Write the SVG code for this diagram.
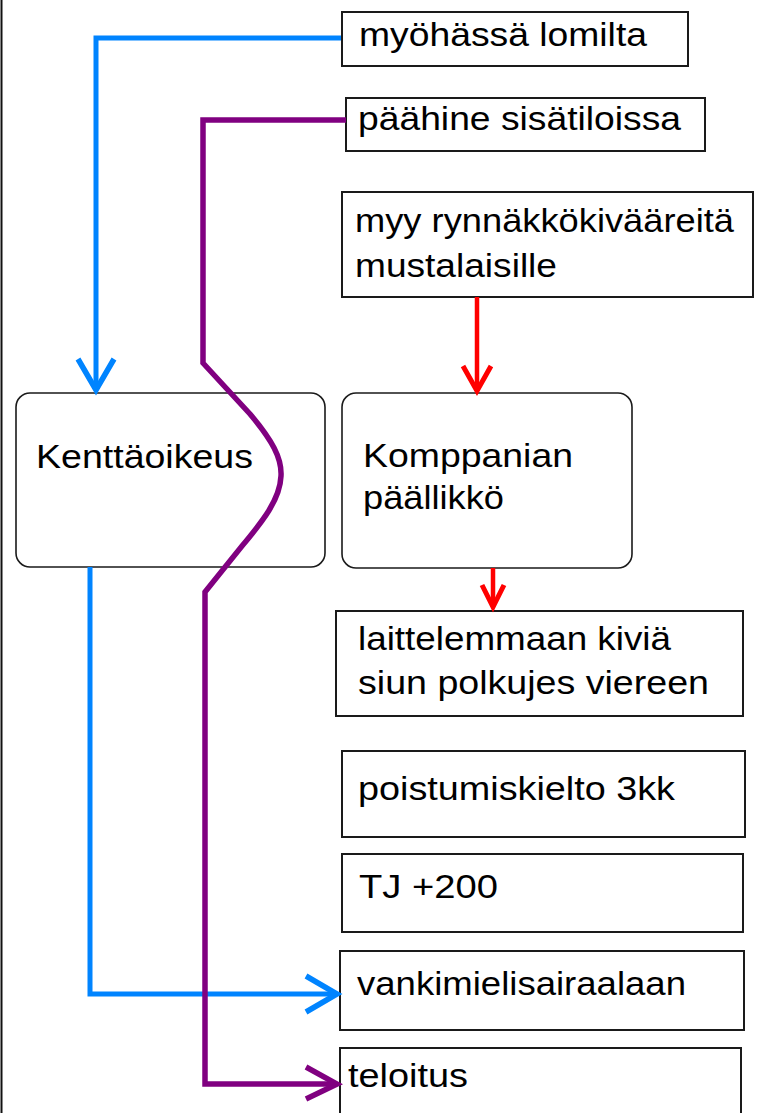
<svg xmlns="http://www.w3.org/2000/svg" width="758" height="1113" viewBox="0 0 758 1113">
  <style>
    .box { fill: #fff; stroke: #1a1a1a; stroke-width: 2; }
    .rbox { fill: #fff; stroke: #1a1a1a; stroke-width: 1.6; }
    .lbl { font-family: "Liberation Sans", Arial, sans-serif; font-size: 34px; fill: #000; }
    .blue { fill: none; stroke: #0084ff; stroke-width: 5; }
    .purple { fill: none; stroke: #800080; stroke-width: 5.5; }
    .red { fill: none; stroke: #ff0000; stroke-width: 4.5; }
  </style>
  <defs>
    <marker id="arrow-blue" markerUnits="userSpaceOnUse" viewBox="-40 -25 45 50" markerWidth="45" markerHeight="50" refX="0" refY="0" orient="auto" overflow="visible">
      <path d="M-31,-18 L0,0 L-31,18" fill="none" stroke="#0084ff" stroke-width="5.5"/>
    </marker>
    <marker id="arrow-purple" markerUnits="userSpaceOnUse" viewBox="-40 -25 45 50" markerWidth="45" markerHeight="50" refX="0" refY="0" orient="auto" overflow="visible">
      <path d="M-31,-17 L0,0 L-31,15" fill="none" stroke="#800080" stroke-width="5.5"/>
    </marker>
    <marker id="arrow-red" markerUnits="userSpaceOnUse" viewBox="-40 -25 45 50" markerWidth="45" markerHeight="50" refX="0" refY="0" orient="auto" overflow="visible">
      <path d="M-25,-14 L0,0 L-25,14" fill="none" stroke="#ff0000" stroke-width="5"/>
    </marker>
    <marker id="arrow-red-small" markerUnits="userSpaceOnUse" viewBox="-40 -25 45 50" markerWidth="45" markerHeight="50" refX="0" refY="0" orient="auto" overflow="visible">
      <path d="M-22,-11 L0,0 L-22,11" fill="none" stroke="#ff0000" stroke-width="5"/>
    </marker>
  </defs>

  <rect x="0" y="0" width="758" height="1113" fill="#fff"/>
  <!-- left frame edge -->
  <line x1="1.5" y1="0" x2="1.5" y2="1113" stroke="#111" stroke-width="2"/>

  <g id="n-myohassa">
    <rect class="box" x="342" y="12" width="346" height="54"/>
    <text class="lbl" x="359" y="46" textLength="288" lengthAdjust="spacingAndGlyphs">myöhässä lomilta</text>
  </g>
  <g id="n-paahine">
    <rect class="box" x="346" y="98" width="359" height="53"/>
    <text class="lbl" x="358" y="130" textLength="323" lengthAdjust="spacingAndGlyphs">päähine sisätiloissa</text>
  </g>
  <g id="n-myy">
    <rect class="box" x="342" y="192" width="411" height="105"/>
    <text class="lbl" x="355" y="232" textLength="379" lengthAdjust="spacingAndGlyphs">myy rynnäkkökivääreitä</text>
    <text class="lbl" x="355" y="277" textLength="202" lengthAdjust="spacingAndGlyphs">mustalaisille</text>
  </g>
  <g id="n-kenttaoikeus">
    <rect class="rbox" x="16" y="393" width="309" height="174" rx="14" ry="14"/>
    <text class="lbl" x="36" y="468" textLength="217" lengthAdjust="spacingAndGlyphs">Kenttäoikeus</text>
  </g>
  <g id="n-komppanian">
    <rect class="rbox" x="342" y="393" width="290" height="175" rx="14" ry="14"/>
    <text class="lbl" x="363" y="467" textLength="210" lengthAdjust="spacingAndGlyphs">Komppanian</text>
    <text class="lbl" x="363" y="509" textLength="141" lengthAdjust="spacingAndGlyphs">päällikkö</text>
  </g>
  <g id="n-laittelemmaan">
    <rect class="box" x="336" y="611" width="407" height="105"/>
    <text class="lbl" x="358" y="650" textLength="313" lengthAdjust="spacingAndGlyphs">laittelemmaan kiviä</text>
    <text class="lbl" x="358" y="694" textLength="351" lengthAdjust="spacingAndGlyphs">siun polkujes viereen</text>
  </g>
  <g id="n-poistumiskielto">
    <rect class="box" x="342" y="751" width="403" height="86"/>
    <text class="lbl" x="358" y="800" textLength="317" lengthAdjust="spacingAndGlyphs">poistumiskielto 3kk</text>
  </g>
  <g id="n-tj">
    <rect class="box" x="342" y="854" width="401" height="78"/>
    <text class="lbl" x="359" y="898" textLength="139" lengthAdjust="spacingAndGlyphs">TJ +200</text>
  </g>
  <g id="n-vankimielisairaalaan">
    <rect class="box" x="340" y="951" width="404" height="79"/>
    <text class="lbl" x="357" y="995" textLength="329" lengthAdjust="spacingAndGlyphs">vankimielisairaalaan</text>
  </g>
  <g id="n-teloitus">
    <rect class="box" x="340" y="1048" width="401" height="80"/>
    <text class="lbl" x="348" y="1087" textLength="120" lengthAdjust="spacingAndGlyphs">teloitus</text>
  </g>

  <g id="connectors">
    <!-- blue: myöhässä lomilta -> Kenttäoikeus -> vankimielisairaalaan -->
    <path class="blue" d="M341,38 H96 V390" marker-end="url(#arrow-blue)"/>
    <path class="blue" d="M90,567 V994 H337" marker-end="url(#arrow-blue)"/>
    <!-- purple: päähine sisätiloissa -> teloitus, weaving past Kenttäoikeus -->
    <path class="purple" d="M346,120 H203 V363 L250,414 C272,440 282,458 281,476 C280,500 262,522 242,546 L205,592 V1084 H337" marker-end="url(#arrow-purple)"/>
    <!-- red: myy rynnäkkökivääreitä -> Komppanian päällikkö -> laittelemmaan kiviä -->
    <path class="red" d="M477,297 V391" marker-end="url(#arrow-red)"/>
    <path class="red" d="M493,568 V607" marker-end="url(#arrow-red-small)"/>
  </g>
</svg>
